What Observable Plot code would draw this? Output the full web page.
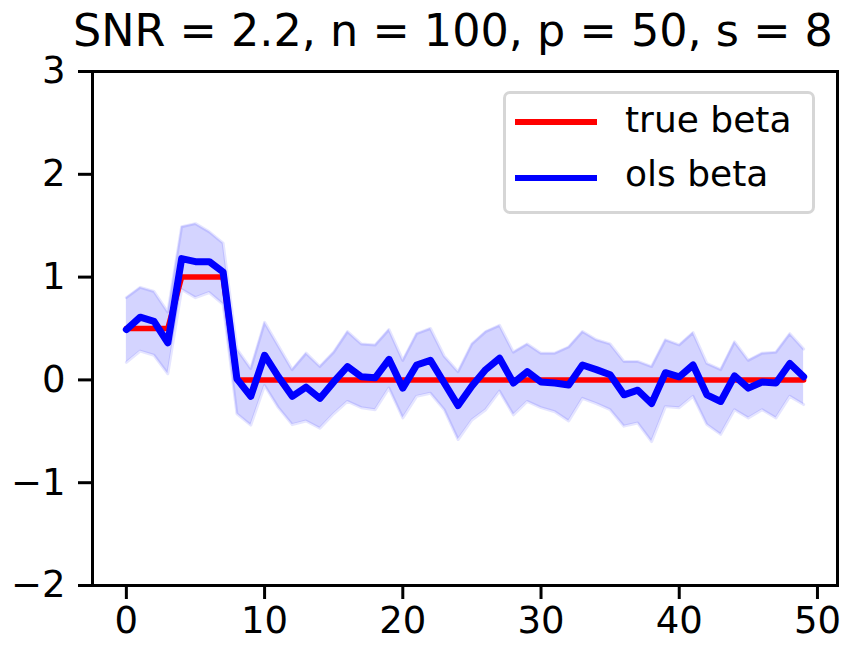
<!DOCTYPE html>
<html>
<head>
<meta charset="utf-8">
<script src="https://cdn.jsdelivr.net/npm/d3@7"></script>
<script src="https://cdn.jsdelivr.net/npm/@observablehq/plot@0.6"></script>
<style>
  html, body { margin: 0; padding: 0; background: #fff; }
  #wrap { position: relative; width: 851px; height: 645px; font-family: "DejaVu Sans", sans-serif; }
  #title { position: absolute; left: 73px; top: 12.4px; font-size: 44.5px; line-height: 0.85; white-space: nowrap; color: #000; }
  #legend { position: absolute; left: 503px; top: 91px; width: 306px; height: 117px; border: 3px solid #d6d6d6; border-radius: 7px; background: rgba(255,255,255,0.8); }
  .lg-row { position: absolute; left: 0; font-size: 36px; line-height: 1; white-space: nowrap; }
  .lg-sw { position: absolute; left: 9px; width: 82px; height: 6px; }
  .lg-tx { position: absolute; left: 119px; }
</style>
</head>
<body>
<div id="wrap">
  <div id="chart"></div>
  <div id="title"></div>
  <div id="legend"></div>
</div>
<script>
const titleText = "SNR = 2.2, n = 100, p = 50, s = 8";
const seriesNames = ["true beta", "ols beta"];
const seriesColors = ["#ff0000", "#0000ff"];
const xTicks = [0, 10, 20, 30, 40, 50];
const yTicks = [-2, -1, 0, 1, 2, 3];

const trueBeta = [0.5,0.5,0.5,0.5,1,1,1,1,0,0, 0,0,0,0,0,0,0,0,0,0, 0,0,0,0,0,0,0,0,0,0, 0,0,0,0,0,0,0,0,0,0, 0,0,0,0,0,0,0,0,0,0];
const olsBeta = [0.49,0.61,0.57,0.36,1.18,1.15,1.15,1.05,0.01,-0.16,
  0.24,0.03,-0.16,-0.07,-0.18,-0.02,0.13,0.03,0.02,0.20,
  -0.08,0.145,0.19,-0.03,-0.25,-0.06,0.10,0.21,-0.03,0.08,
  -0.02,-0.03,-0.05,0.145,0.10,0.05,-0.145,-0.10,-0.23,0.07,
  0.03,0.145,-0.145,-0.21,0.04,-0.08,-0.02,-0.03,0.16,0.03];
const upperBand = [0.80,0.90,0.86,0.66,1.49,1.52,1.44,1.33,0.30,0.11,
  0.56,0.33,0.10,0.26,0.13,0.27,0.47,0.35,0.34,0.49,
  0.19,0.45,0.50,0.23,0.08,0.35,0.47,0.53,0.27,0.35,
  0.26,0.26,0.32,0.47,0.39,0.35,0.18,0.18,0.13,0.39,
  0.34,0.46,0.16,0.10,0.37,0.19,0.26,0.27,0.45,0.30];
const lowerBand = [0.17,0.28,0.24,0.06,0.88,0.80,0.85,0.735,-0.33,-0.44,
  -0.055,-0.27,-0.435,-0.40,-0.47,-0.33,-0.21,-0.27,-0.29,-0.08,
  -0.37,-0.16,-0.13,-0.29,-0.58,-0.39,-0.29,-0.11,-0.34,-0.21,
  -0.27,-0.31,-0.40,-0.18,-0.23,-0.29,-0.45,-0.42,-0.60,-0.26,
  -0.27,-0.16,-0.435,-0.53,-0.29,-0.37,-0.29,-0.37,-0.16,-0.24];

const rows = olsBeta.map((v, i) => ({i, ols: v, tru: trueBeta[i], lo: lowerBand[i], hi: upperBand[i]}));
const fmt = d3.format("d");

const chart = Plot.plot({
  width: 851,
  height: 645,
  marginLeft: 92,
  marginRight: 14,
  marginTop: 71,
  marginBottom: 60,
  style: {fontFamily: "DejaVu Sans, sans-serif", fontSize: "37px", color: "#000", background: "#fff"},
  x: {domain: [-2.45, 51.45], label: null},
  y: {domain: [-2, 3], label: null},
  marks: [
    Plot.areaY(rows, {x: "i", y1: "lo", y2: "hi", fill: seriesColors[1], fillOpacity: 0.17}),
    Plot.line(rows, {x: "i", y: "hi", stroke: seriesColors[1], strokeOpacity: 0.1, strokeWidth: 3}),
    Plot.line(rows, {x: "i", y: "lo", stroke: seriesColors[1], strokeOpacity: 0.1, strokeWidth: 3}),
    Plot.line(rows, {x: "i", y: "tru", stroke: seriesColors[0], strokeWidth: 5.5}),
    Plot.line(rows, {x: "i", y: "ols", stroke: seriesColors[1], strokeWidth: 7}),
    Plot.axisX({ticks: xTicks, tickFormat: fmt, tickSize: 14, tickPadding: 7, strokeWidth: 3, fontSize: 37}),
    Plot.axisY({ticks: yTicks, tickFormat: fmt, tickSize: 14, tickPadding: 13, strokeWidth: 3, fontSize: 37}),
    Plot.frame({stroke: "#000", strokeWidth: 3})
  ]
});
document.getElementById("chart").appendChild(chart);

document.getElementById("title").textContent = titleText;

const legend = document.getElementById("legend");
const swY = [25, 81];
const txY = [8, 62];
seriesNames.forEach((name, k) => {
  const sw = document.createElement("div");
  sw.className = "lg-sw";
  sw.style.top = swY[k] + "px";
  sw.style.background = seriesColors[k];
  legend.appendChild(sw);
  const tx = document.createElement("div");
  tx.className = "lg-row lg-tx";
  tx.style.top = txY[k] + "px";
  tx.textContent = name;
  legend.appendChild(tx);
});
</script>
</body>
</html>
